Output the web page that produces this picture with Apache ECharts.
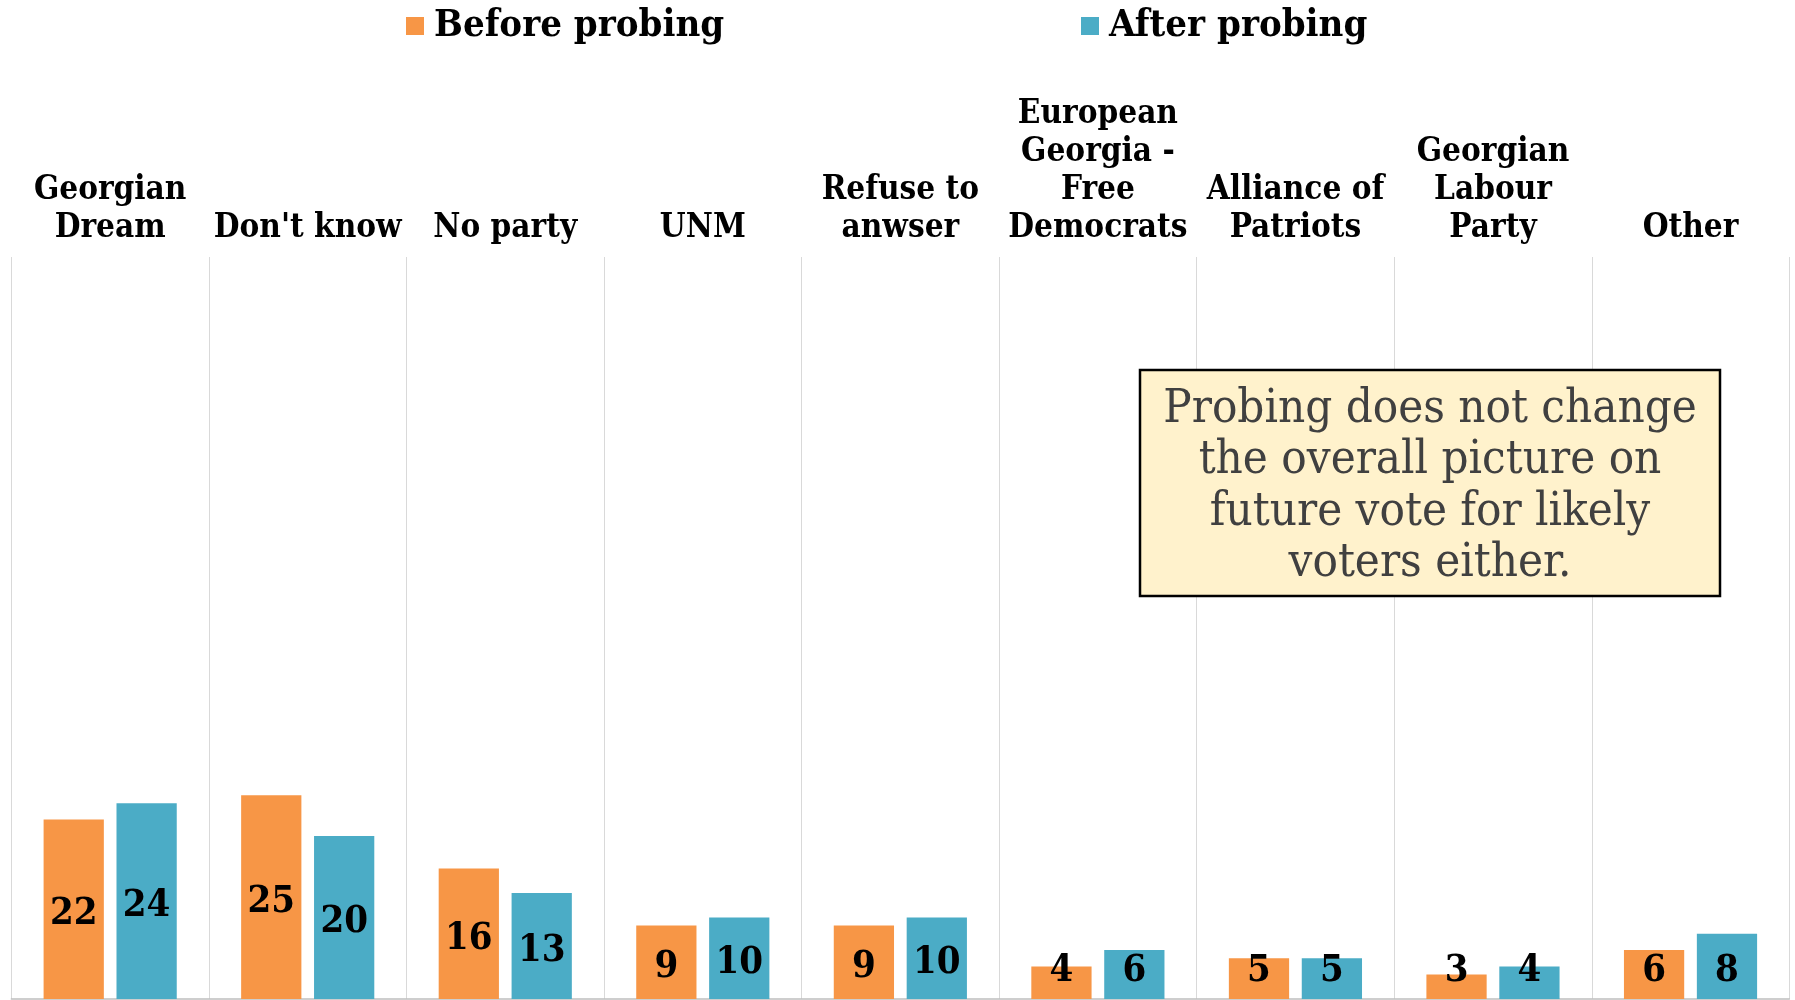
<!DOCTYPE html>
<html>
<head>
<meta charset="utf-8">
<script src="https://cdn.jsdelivr.net/npm/echarts@6/dist/echarts.min.js"></script>
<style>
html,body{margin:0;padding:0;background:#fff;}
#chart{width:1795px;height:1000px;}
</style>
</head>
<body>
<div id="chart"></div>
<script>
const categories = [
  "Georgian\nDream", "Don't know", "No party", "UNM", "Refuse to\nanwser",
  "European\nGeorgia -\nFree\nDemocrats", "Alliance of\nPatriots",
  "Georgian\nLabour\nParty", "Other"
];
const beforeProbing = [22, 25, 16, 9, 9, 4, 5, 3, 6];
const afterProbing = [24, 20, 13, 10, 10, 6, 5, 4, 8];
const seriesNames = ["Before probing", "After probing"];
const noteLines = [
  "Probing does not change",
  "the overall picture on",
  "future vote for likely",
  "voters either."
];

const SERIF = "'DejaVu Serif Condensed', 'DejaVu Serif', serif";
const chart = echarts.init(document.getElementById('chart'), null, {renderer: 'canvas'});

// keep labels visually centred in the bar, but never closer than ~28px to the baseline
function labelLayout(p) {
  const limit = p.rect.y + p.rect.height - 28;
  const cy = p.labelRect.y + p.labelRect.height / 2 + 5;
  return {
    x: p.labelRect.x + p.labelRect.width / 2,
    y: Math.min(cy, limit),
    align: 'center',
    verticalAlign: 'middle'
  };
}

const barLabel = {
  show: true,
  position: 'inside',
  color: '#000',
  fontFamily: SERIF,
  fontWeight: 'bold',
  fontSize: 38
};

const legendText = {fontFamily: SERIF, fontWeight: 'bold', fontSize: 38, color: '#000', lineHeight: 40, padding: [0, 0, 0, 5]};

const option = {
  backgroundColor: '#fff',
  animation: false,
  legend: [
    {
      data: [seriesNames[0]], left: 406, top: 6, padding: 0,
      itemWidth: 18, itemHeight: 18, icon: 'rect',
      textStyle: legendText
    },
    {
      data: [seriesNames[1]], left: 1081, top: 6, padding: 0,
      itemWidth: 18, itemHeight: 18, icon: 'rect',
      textStyle: legendText
    }
  ],
  grid: {left: 11.4, right: 5.7, top: 257, bottom: 1, containLabel: false},
  xAxis: [
    {
      type: 'category',
      data: categories,
      position: 'top',
      axisLine: {show: false},
      axisTick: {show: false},
      splitLine: {show: true, lineStyle: {color: '#D9D9D9', width: 1}},
      axisLabel: {
        interval: 0, margin: 10,
        fontFamily: SERIF, fontWeight: 'bold', fontSize: 33, lineHeight: 38,
        color: '#000', align: 'center'
      }
    },
    {
      type: 'category',
      data: categories,
      position: 'bottom',
      axisLine: {show: true, lineStyle: {color: '#BFBFBF', width: 1.5}},
      axisTick: {show: false},
      axisLabel: {show: false},
      splitLine: {show: false}
    }
  ],
  yAxis: {
    type: 'value', min: 0, max: 91, show: false,
    splitLine: {show: false}
  },
  series: [
    {
      name: seriesNames[0], type: 'bar', xAxisIndex: 0,
      data: beforeProbing,
      barWidth: '30.5%', barGap: '21%',
      itemStyle: {color: '#F79646'},
      label: barLabel,
      labelLayout: labelLayout
    },
    {
      name: seriesNames[1], type: 'bar', xAxisIndex: 0,
      data: afterProbing,
      barWidth: '30.5%', barGap: '21%',
      itemStyle: {color: '#4BACC6'},
      label: barLabel,
      labelLayout: labelLayout
    }
  ],
  graphic: [
    {
      type: 'rect', z: 100,
      shape: {x: 1140, y: 370, width: 580, height: 226},
      style: {fill: '#FFF2CC', stroke: '#000', lineWidth: 2.5}
    },
    {
      type: 'text', z: 101,
      x: 1430, y: 487,
      style: {
        text: noteLines.join('\n'),
        fill: '#404040',
        fontFamily: SERIF, fontSize: 47,
        lineHeight: 51.5,
        align: 'center', verticalAlign: 'middle'
      }
    }
  ]
};
chart.setOption(option);
</script>
</body>
</html>
